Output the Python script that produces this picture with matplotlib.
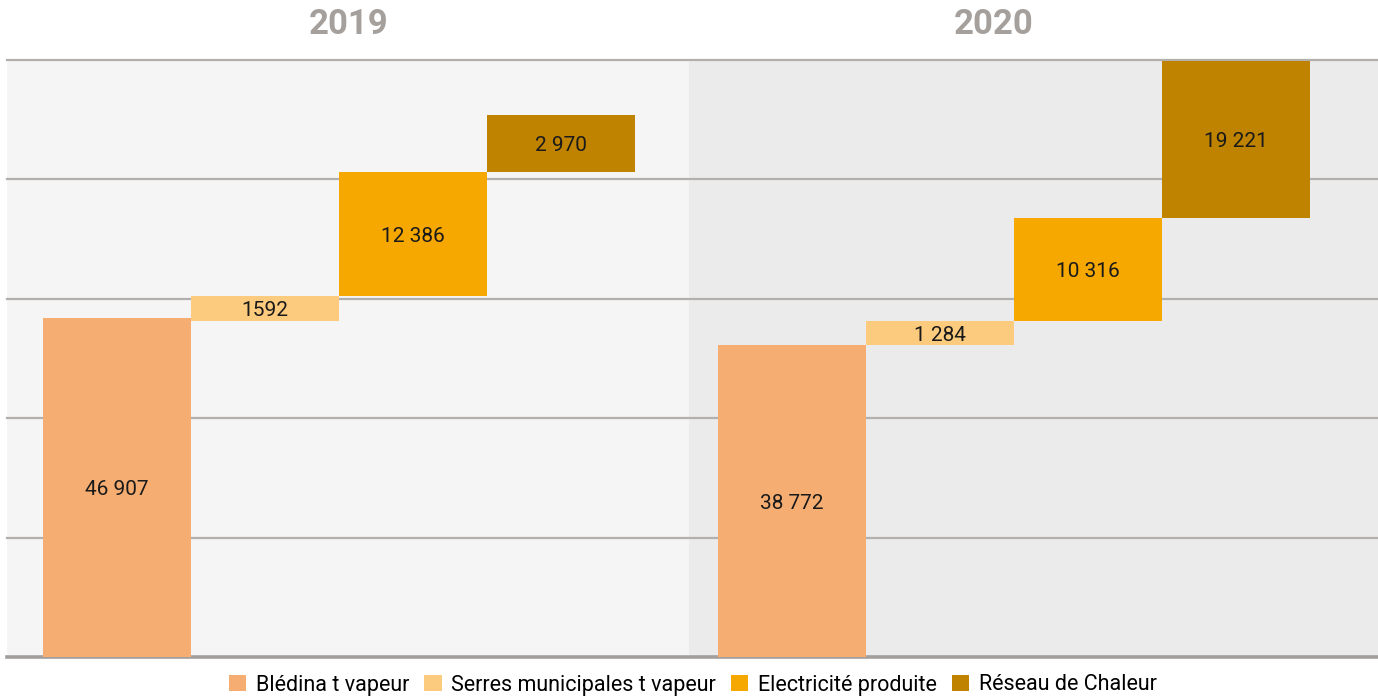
import matplotlib.pyplot as plt
from matplotlib.patches import Patch

plt.rcParams['font.family'] = ['Roboto', 'DejaVu Sans']

# ---------------------  Data  --------------------------
years = ['2019', '2020']
categories = ['Blédina t vapeur', 'Serres municipales t vapeur',
              'Electricité produite', 'Réseau de Chaleur']

# labels written on the bars
values_2019 = [46907, 1592, 12386, 2970]
values_2020 = [38772, 1284, 10316, 19221]
label_2019 = ['46 907', '1592', '12 386', '2 970']
label_2020 = ['38 772', '1 284', '10 316', '19 221']

# bar extents as drawn in the picture (in gridline units, not to scale with values)
bottom_2019 = [0.0, 2.81, 3.02, 4.06]
top_2019 = [2.84, 3.02, 4.06, 4.54]
bottom_2020 = [0.0, 2.61, 2.81, 3.68]
top_2020 = [2.61, 2.81, 3.68, 4.99]

colors = ['#f5ad72', '#fdcb7d', '#f7a800', '#c08300']
bg_colors = ['#f5f5f5', '#ebebeb']

# ---------------------  Figure  --------------------------
fig = plt.figure(figsize=(13.78, 6.97), dpi=100)
W, H = 1378, 697
ax = fig.add_axes([7 / W, (H - 657) / H, (W - 7) / W, 597 / H])

BAR_PX = 148.0
xmax = (W - 7) / BAR_PX
ax.set_xlim(0, xmax)
ax.set_ylim(0, 5)

split = (688.5 - 7) / BAR_PX
ax.axvspan(0, split, color=bg_colors[0], zorder=0, lw=0)
ax.axvspan(split, xmax, color=bg_colors[1], zorder=0, lw=0)

for g in range(1, 6):
    ax.axhline(g, color='#b3afad', lw=1.6, zorder=1, clip_on=False)
ax.axhline(0, color='#a29e9c', lw=2.6, zorder=1, clip_on=False)

offsets = [(43 - 7) / BAR_PX, (718 - 7) / BAR_PX]
bottoms = [bottom_2019, bottom_2020]
tops = [top_2019, top_2020]
labels = [label_2019, label_2020]

for k, year in enumerate(years):
    for i, cat in enumerate(categories):
        b = bottoms[k][i]
        h = tops[k][i] - b
        x0 = offsets[k] + i
        ax.bar(x0, h, bottom=b, width=1.0, align='edge', color=colors[i],
               lw=0, zorder=3)
        ax.text(x0 + 0.5, b + h / 2, labels[k][i], ha='center',
                va='center_baseline', fontsize=15, color='#1a1a1a', zorder=4)

ax.axis('off')

# year titles
title_x = [349, 994]
for k, year in enumerate(years):
    fig.text(title_x[k] / W, 1 - 24 / H, year, ha='center', va='center',
             fontsize=25, fontweight='bold', color='#a5a09c')

handles = [Patch(facecolor=c, edgecolor='none') for c in colors]
fig.legend(handles, categories, loc='center', bbox_to_anchor=(693 / W, 1 - 685 / H),
           ncol=4, frameon=False, fontsize=15.5, handlelength=0.8,
           handleheight=0.8, handletextpad=0.45, columnspacing=0.7,
           borderpad=0)

fig.savefig('out.png', dpi=100)
